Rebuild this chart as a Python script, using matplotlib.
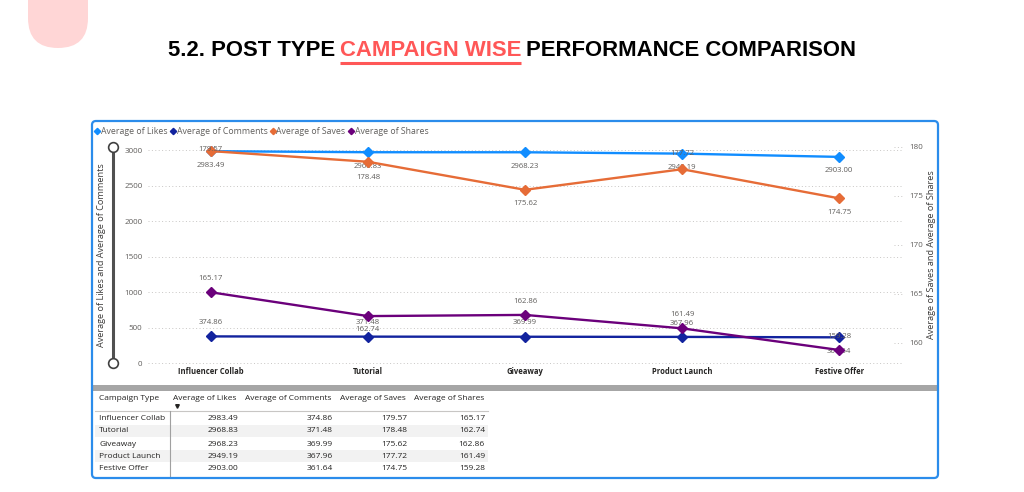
import matplotlib
matplotlib.use("Agg")
import matplotlib.pyplot as plt
from matplotlib.patches import FancyBboxPatch, Rectangle
import numpy as np

# Data
campaigns = ["Influencer Collab", "Tutorial", "Giveaway", "Product Launch", "Festive Offer"]
avg_likes = [2983.49, 2968.83, 2968.23, 2949.19, 2903.00]
avg_comments = [374.86, 371.48, 369.99, 367.96, 361.64]
avg_saves = [179.57, 178.48, 175.62, 177.72, 174.75]
avg_shares = [165.17, 162.74, 162.86, 161.49, 159.28]
series_names = ["Average of Likes", "Average of Comments", "Average of Saves", "Average of Shares"]

left_ticks = [0, 500, 1000, 1500, 2000, 2500, 3000]
right_ticks = [160, 165, 170, 175, 180]

# colours (Power BI default palette)
c_likes = "#118DFF"
c_comments = "#12239E"
c_saves = "#E66C37"
c_shares = "#6B007B"
grey_txt = "#605E5C"
dark_txt = "#252423"

plt.rcParams['font.family'] = ['Open Sans', 'DejaVu Sans']

W, H = 1024, 492
fig = plt.figure(figsize=(W / 100, H / 100), dpi=100)
fig.patch.set_facecolor("white")

# overlay axes in pixel units (origin top-left) for frame, table and title
ov = fig.add_axes([0, 0, 1, 1], zorder=0)
ov.set_xlim(0, W)
ov.set_ylim(H, 0)
ov.axis("off")

def px_to_fig(x0, y0, x1, y1):
    return [x0 / W, 1 - y1 / H, (x1 - x0) / W, (y1 - y0) / H]

# main chart axes
ax = fig.add_axes(px_to_fig(148, 140, 902, 366), zorder=2)
ax.patch.set_alpha(0)
ax2 = ax.twinx()
ax2.set_zorder(3)
ax2.patch.set_alpha(0)

x = np.arange(len(campaigns))
ax.set_xlim(-0.4, len(campaigns) - 0.6)
ax.set_ylim(-42, 3141)
ax2.set_ylim(157.65, 180.7)

ax.plot(x, avg_likes, color=c_likes, lw=1.7, marker="D", ms=5, zorder=3)
ax.plot(x, avg_comments, color=c_comments, lw=1.7, marker="D", ms=5, zorder=3)
ax2.plot(x, avg_saves, color=c_saves, lw=1.7, marker="D", ms=5, zorder=3)
ax2.plot(x, avg_shares, color=c_shares, lw=1.7, marker="D", ms=5, zorder=3)

# label offsets in points (+ above, - below), like Power BI auto placement
off_likes = [-10, -10, -10, -10, -10]
off_comments = [10, 10, 10, 10, -10]
off_saves = [1, -11, -10, 11, -10]
off_shares = [10, -10, 10, 10, 10]

def label_series(axis, vals, offs):
    for i, (v, o) in enumerate(zip(vals, offs)):
        axis.annotate(f"{v:.2f}", (i, v), xytext=(0, o), textcoords="offset points",
                      ha="center", va="center", fontsize=5.6, color=grey_txt, zorder=5)

label_series(ax, avg_likes, off_likes)
label_series(ax, avg_comments, off_comments)
label_series(ax2, avg_saves, off_saves)
label_series(ax2, avg_shares, off_shares)

ax.set_xticks(x)
ax.set_xticklabels(campaigns, fontsize=5.5, fontweight="bold", color=dark_txt)
ax.set_yticks(left_ticks)
ax.set_yticklabels([str(t) for t in left_ticks], fontsize=5.8, color=grey_txt)
ax2.set_yticks(right_ticks)
ax2.set_yticklabels([str(t) for t in right_ticks], fontsize=5.8, color=grey_txt)
ax.tick_params(axis="x", length=0, pad=1)
ax.tick_params(axis="y", length=0, pad=4)
ax2.tick_params(axis="y", length=0, pad=5)
ax.grid(axis="y", linestyle=(0, (1, 2.5)), color="#C8C6C4", lw=0.7)
for t in right_ticks:
    ax2.plot([0.99, 1.0], [t, t], transform=ax2.get_yaxis_transform(),
             linestyle=(0, (1, 2.5)), color="#C8C6C4", lw=0.7, clip_on=False)
for a in (ax, ax2):
    for s in a.spines.values():
        s.set_visible(False)

# axis titles
ov.text(101, 255, "Average of Likes and Average of Comments", rotation=90,
        ha="center", va="center", fontsize=6.6, color="#3B3A39")
ov.text(932, 255, "Average of Saves and Average of Shares", rotation=90,
        ha="center", va="center", fontsize=6.6, color="#3B3A39")

# zoom slider on left axis
ov.plot([113, 113], [147, 363], color="#505050", lw=2.2, solid_capstyle="butt", zorder=1)
ov.plot([113, 113], [147, 363], ls="none", marker="o", ms=7, mfc="white",
        mec="#404040", mew=1.2, zorder=2)

fig.canvas.draw()
renderer = fig.canvas.get_renderer()

def text_width(t):
    return t.get_window_extent(renderer=renderer).width

# legend
lx = 97
for name, col in zip(series_names, [c_likes, c_comments, c_saves, c_shares]):
    ov.plot([lx], [131], marker="D", ms=3.2, color=col, ls="none")
    t = ov.text(lx + 4, 131, name, ha="left", va="center", fontsize=6.3, color=grey_txt)
    lx = lx + 4 + text_width(t) + 5

# outer frame and separator bar
ov.add_patch(FancyBboxPatch((92, 121), 846, 357, boxstyle="round,pad=0,rounding_size=4",
                            fc="none", ec="#2B8CEB", lw=1.6, zorder=4))
ov.add_patch(Rectangle((93, 385), 844, 6, fc="#A6A6A6", ec="none"))

# table
col_left = [99, 173, 245, 340, 414]
col_right = [None, 238, 333, 407, 485]
header = ["Campaign Type"] + series_names
row_y = [418, 431, 444, 456, 469]
tfs = 6.0
for k, hname in enumerate(header):
    ov.text(col_left[k], 399, hname, ha="left", va="center", fontsize=tfs, color=dark_txt)
ov.plot([176.5], [406], marker="v", ms=2.6, color=dark_txt, ls="none")
ov.plot([95, 488], [411, 411], color="#C8C6C4", lw=0.8)
for i, cname in enumerate(campaigns):
    if i % 2 == 1:
        ov.add_patch(Rectangle((95, row_y[i] - 6.3), 393, 12.6, fc="#F2F2F2", ec="none", zorder=0))
    ov.text(col_left[0], row_y[i], cname, ha="left", va="center", fontsize=tfs, color=dark_txt)
    vals = [avg_likes[i], avg_comments[i], avg_saves[i], avg_shares[i]]
    for k, v in enumerate(vals):
        ov.text(col_right[k + 1], row_y[i], f"{v:.2f}", ha="right", va="center",
                fontsize=tfs, color=dark_txt)
ov.plot([170, 170], [411, 476], color="#A0A0A0", lw=0.8)

# decorative pink tab at top left
ov.add_patch(FancyBboxPatch((28, -40), 60, 88, boxstyle="round,pad=0,rounding_size=30",
                            fc="#FFD6D6", ec="none"))

# title in three pieces, middle part red and underlined; size fitted to the reference width
title_parts = ["5.2. POST TYPE", "CAMPAIGN WISE", "PERFORMANCE COMPARISON"]
title_cols = ["black", "#FF5757", "black"]
title_font = ["Liberation Sans Narrow", "Liberation Sans"]
target_w = 688

def title_width(size):
    ps = [ov.text(0, 0, s, fontsize=size, fontweight="bold", family=title_font)
          for s in title_parts + ["A A", "AA"]]
    ws = [text_width(p) for p in ps]
    for p in ps:
        p.remove()
    g = ws[-2] - ws[-1]
    return sum(ws[:3]) + 2 * g

tsize = 16.0
tsize = min(21.0, tsize * target_w / title_width(tsize))
probe = ov.text(0, 0, "A A", fontsize=tsize, fontweight="bold", family=title_font)
probe2 = ov.text(0, 0, "AA", fontsize=tsize, fontweight="bold", family=title_font)
gap = text_width(probe) - text_width(probe2)
probe.remove()
probe2.remove()
pieces = [ov.text(0, 50, p, fontsize=tsize, fontweight="bold", family=title_font,
                  color=c, ha="left", va="center") for p, c in zip(title_parts, title_cols)]
widths = [text_width(p) for p in pieces]
total = sum(widths) + 2 * gap
tx = 512 - total / 2
for p, w in zip(pieces, widths):
    p.set_x(tx)
    if p.get_color() == "#FF5757":
        ov.plot([tx, tx + w], [63, 63], color="#FF5757", lw=2.2, solid_capstyle="butt")
    tx += w + gap

fig.savefig("out.png", dpi=100, facecolor="white")
